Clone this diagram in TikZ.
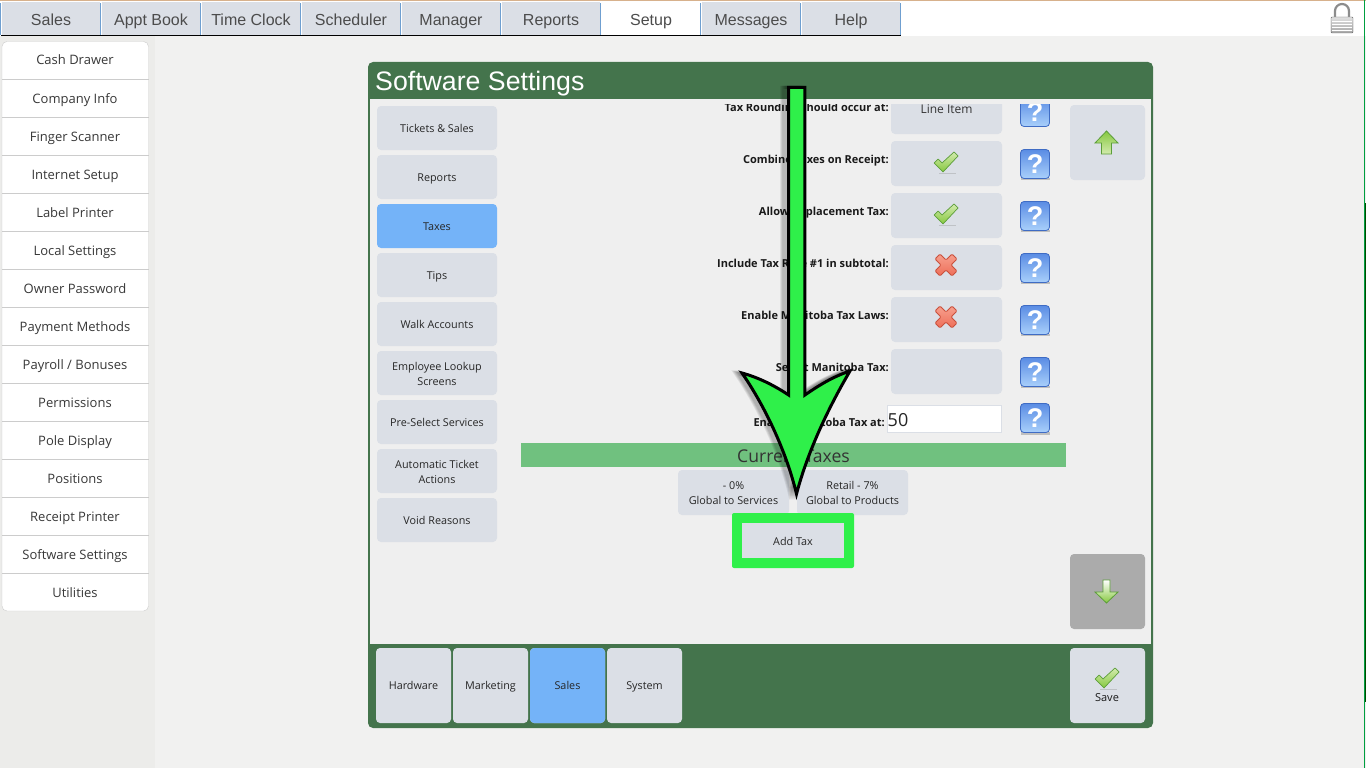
\documentclass[tikz,border=0pt]{standalone}
\usepackage{fontspec}
\setmainfont{Open Sans}
\newfontfamily\tabfont{Liberation Sans}
\definecolor{pagebg}{HTML}{F1F1F0}
\definecolor{sidebg}{HTML}{ECECEA}
\definecolor{inner}{HTML}{EFEFEF}
\definecolor{panel}{HTML}{44744C}
\definecolor{btnbg}{HTML}{DBDFE6}
\definecolor{selbg}{HTML}{74B3F8}
\definecolor{hilite}{HTML}{2FF04A}
\definecolor{band}{HTML}{70C17F}
\definecolor{tabline}{HTML}{6F9FD0}
\definecolor{helptop}{HTML}{5A8CE4}
\definecolor{helpbot}{HTML}{A9D0FB}
\definecolor{helpedge}{HTML}{3F6CC4}
\definecolor{okdark}{HTML}{5C9E3A}
\definecolor{oklight}{HTML}{D3EBAE}
\definecolor{okfill}{HTML}{86C83F}
\definecolor{baddark}{HTML}{C9503C}
\definecolor{badlight}{HTML}{F7A08E}
\definecolor{badfill}{HTML}{EE6E58}
\tikzset{
  baselines/.style 2 args={execute at begin node={\rule{0pt}{#1pt}}, execute at end node={\rule[-#2pt]{0pt}{#2pt}}},
  tabbox/.style={fill=btnbg, minimum width=98, minimum height=33, inner sep=0, text height=15, text depth=.6, text=black!70, font=\tabfont\fontsize{16}{18}\selectfont},
  sideitem/.style={inner sep=0, text height=12, text depth=2, text=black!78, font=\fontsize{13}{15}\selectfont},
  btntext/.style={inner sep=0, align=center, text=black!85, baselines={12}{3}, font=\fontsize{10.8}{15}\selectfont},
  btnbox/.style={btntext, fill=btnbg, rounded corners=4},
  menubox/.style={btnbox, minimum width=120, minimum height=44},
  rowbox/.style={btnbox, minimum width=111, minimum height=45},
  bigbox/.style={btnbox, minimum width=75, minimum height=75, baselines={11}{3.5}},
  rowlabel/.style={anchor=east, inner sep=0, text height=9, text depth=.4, text=black!90, font=\bfseries\fontsize{11}{13}\selectfont},
  okmark/.pic={
    \fill[black!45, opacity=.35] (-7,10.5) rectangle (10,11.5);
    \draw[draw=okdark, top color=oklight, bottom color=okfill, line width=.7, line join=round]
      (-12,1) -- (-8,-3) -- (-4,1) -- (8,-10) -- (12,-6) -- (-3,10) -- cycle;
  },
  badmark/.pic={
    \draw[draw=baddark, top color=badlight, bottom color=badfill, line width=.8, rounded corners=1.2]
      (-11,-6) -- (-6,-11) -- (0,-5) -- (6,-11) -- (11,-6) -- (5,0) -- (11,6) -- (6,11) -- (0,5) -- (-6,11) -- (-11,6) -- (-5,0) -- cycle;
  },
  helpbox/.style={draw=helpedge, top color=helptop, bottom color=helpbot, rounded corners=3.5, line width=.8,
    minimum width=29, minimum height=29, inner sep=0, text=white, font=\tabfont\bfseries\fontsize{27}{27}\selectfont},
}
\newcommand{\bigarrowpath}{
  (788.6,87.5) -- (804.9,87.5) -- (804.9,395)
  .. controls (818,386) and (832,377) .. (850,371)
  .. controls (830,405) and (808,450) .. (796.5,494)
  .. controls (786,450) and (764,405) .. (742,373)
  .. controls (760,378) and (775,386) .. (788.6,395) -- cycle
}
\begin{document}
\begin{tikzpicture}[x=1pt, y=-1pt]
  \useasboundingbox (0,0) rectangle (1366,768);
  \fill[pagebg] (0,0) rectangle (1366,768);
  \fill[sidebg] (0,36) rectangle (155,768);
  \fill[white] (0,0) rectangle (1366,36);
  \fill[black!35!orange!45!white] (0,0) rectangle (1366,1);
  \fill[green!50!black!75!cyan] (1364,0) rectangle (1365,768);
  \fill[green!30!black] (1365,203) rectangle (1366,702);
  % top tabs
  \foreach \lab [count=\i] in {Sales, Appt Book, Time Clock, Scheduler, Manager, Reports, Setup, Messages, Help} {
    \node[tabbox] (tab\i) at ({\i*100-49},18.5) {\lab};
    \draw[tabline, line width=1.2] ({\i*100-99.5},35) -- ({\i*100-99.5},3);
  }
  \node[tabbox, fill=white] (tabsel) at (651,18.5) {Setup};
  \draw[tabline, line width=1.2] (900.5,35) -- (900.5,3);
  \draw[black, line width=.8] (1,35.5) -- (901,35.5);
  % lock
  \draw[black!45, line width=2.2] (1335,18) -- (1335,11) arc[start angle=180, end angle=360, radius=7] -- (1349,18);
  \draw[black!60, top color=black!12, bottom color=black!35, rounded corners=1] (1331,17) rectangle (1353,33);
  \foreach \yy in {21,24,27,30}
    \draw[white, line width=.8] (1332,\yy) -- (1352,\yy);
  % side list
  \draw[black!20, fill=white, rounded corners=5] (2,41.5) rectangle (148.5,611);
  \foreach \lab [count=\i] in {Cash Drawer, Company Info, Finger Scanner, Internet Setup, Label Printer, Local Settings, Owner Password, Payment Methods, Payroll / Bonuses, Permissions, Pole Display, Positions, Receipt Printer, Software Settings, Utilities} {
    \node[sideitem] (side\i) at (75,{22+38*\i}) {\lab};
    \ifnum\i<15
      \draw[black!20] (2,{41.5+38*\i}) -- (148.5,{41.5+38*\i});
    \fi
  }
  % main panel
  \fill[panel, rounded corners=5] (368,62) rectangle (1153,728);
  \fill[inner] (370,99) rectangle (1151,644);
  \node[anchor=west, inner sep=0, text=white, text height=17, text depth=0, font=\tabfont\fontsize{26.7}{28}\selectfont] (title) at (375,82) {Software Settings};
  \foreach \y/\lab [count=\i] in {128/Tickets \& Sales, 177/Reports, 275/Tips, 324/Walk Accounts, 422/Pre-Select Services, 520/Void Reasons}
    \node[menubox] (menu\i) at (437,\y) {\lab};
  \node[menubox] (menumulti1) at (437,373) {};
  \node[btntext] (menutext1) at (437,375) {Employee Lookup\\Screens};
  \node[menubox] (menumulti2) at (437,471) {};
  \node[btntext] (menutext2) at (437,473) {Automatic Ticket\\Actions};
  \node[menubox, fill=selbg] (menusel) at (437,226) {Taxes};
  \begin{scope}
    \clip (371,104) rectangle (1150,644);
    \node[rowbox] (row0) at (946.5,111.5) {};
    \node[inner sep=0, text height=9, text depth=.4, text=black!80, font=\fontsize{12}{14}\selectfont] (rowtext) at (946.5,109) {Line Item};
    \node[rowlabel] (lab0) at (889,107) {Tax Rounding should occur at:};
    \node[helpbox] (help0) at (1035,112) {?};
  \end{scope}
  \foreach \y/\lab [count=\i] in {163.5/Combine Taxes on Receipt:, 215.5/Allow Replacement Tax:, 267.5/Include Tax Rate \#1 in subtotal:, 319.5/Enable Manitoba Tax Laws:, 371.5/Select Manitoba Tax:} {
    \node[rowbox] (row\i) at (946.5,\y) {};
    \node[rowlabel] (lab\i) at (889,\y-4.5) {\lab};
    \fill[black!25] (1021,\y+14) rectangle (1050,\y+16.5);
    \node[helpbox] (help\i) at (1035,\y+.5) {?};
  }
  \pic at (946,162) {okmark};
  \pic at (946,214) {okmark};
  \pic at (946,265) {badmark};
  \pic at (946,317) {badmark};
  \node[rowlabel] (lab6) at (885,422.5) {Enable Manitoba Tax at:};
  \node[draw=btnbg, fill=white, minimum width=114, minimum height=27, inner sep=0] (taxfield) at (944.5,419) {};
  \node[anchor=west, inner sep=0, text=black!85, font=\fontsize{18}{20}\selectfont] (taxval) at (887.5,420) {50};
  \fill[black!25] (1021,432) rectangle (1050,434.5);
  \node[helpbox] (help6) at (1035,418) {?};
  % current taxes
  \node[fill=band, minimum width=545, minimum height=24, inner sep=0, text height=15.4, text depth=0, text=black!80, font=\fontsize{17.6}{19}\selectfont] (curtaxes) at (793.5,455) {Current Taxes};
  \node[rowbox] (taxa) at (733.5,492.5) {};
  \node[btntext] (taxatext) at (733.5,494.5) {- 0\%\\Global to Services};
  \node[rowbox] (taxb) at (852.5,492.5) {};
  \node[btntext] (taxbtext) at (852.5,494.5) {Retail - 7\%\\Global to Products};
  \node[fill=hilite, rounded corners=2, minimum width=122, minimum height=55, inner sep=0] (addframe) at (793,540.5) {};
  \node[btnbox, rounded corners=0, minimum width=102, minimum height=35] (addtax) at (793,540.5) {Add Tax};
  % up and down
  \node[bigbox] (upbtn) at (1107.5,142.5) {};
  \draw[draw=okdark, top color=okfill, bottom color=oklight, line width=.8]
    (1106.5,131) -- (1118,143) -- (1111.5,143) -- (1111.5,154) -- (1101.5,154) -- (1101.5,143) -- (1095,143) -- cycle;
  \node[bigbox, fill=black!33] (downbtn) at (1107.5,591.5) {};
  \draw[draw=okdark, top color=white, bottom color=okfill, line width=.8]
    (1103,580) -- (1110,580) -- (1110,592) -- (1118,592) -- (1106.5,603) -- (1095,592) -- (1103,592) -- cycle;
  % bottom bar
  \foreach \x/\lab [count=\i] in {413.5/Hardware, 490.5/Marketing, 567.5/Sales, 644.5/System}
    \node[bigbox] (cat\i) at (\x,685.5) {\lab};
  \node[bigbox, fill=selbg] (catsel) at (567.5,685.5) {Sales};
  \node[bigbox] (savebtn) at (1107.5,685.5) {};
  \pic at (1107,678) {okmark};
  \node[inner sep=0, text height=9, text depth=1, text=black!90, font=\fontsize{11}{13}\selectfont] (savelab) at (1107,697) {Save};
  % big arrow
  \foreach \s in {1,...,7}
    \draw[black, opacity=.08, line width=3, xshift=-\s] \bigarrowpath;
  \draw[black, fill=hilite, line width=3, miter limit=12] \bigarrowpath;
\end{tikzpicture}
\end{document}
